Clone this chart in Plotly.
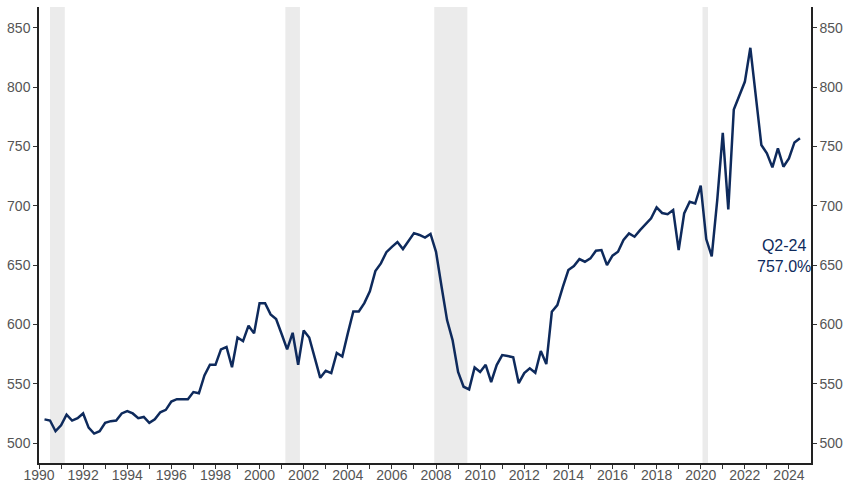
import plotly.graph_objects as go

# quarterly series, 1990 Q1 .. 2024 Q2 (quarter-end)
years = list(range(1990, 2025))
values = [
    520, 519, 510, 515,        # 1990
    524, 519, 521, 525,        # 1991
    513, 508, 510, 517,        # 1992
    518.5, 519, 525, 527,      # 1993
    525, 521, 522, 517,        # 1994
    520, 526, 528, 535,        # 1995
    537, 537, 537, 543,        # 1996
    542, 557, 566, 566,        # 1997
    579, 581, 564, 589,        # 1998
    586, 599, 592.5, 618,      # 1999
    618, 608.5, 604.6, 592,    # 2000
    579, 593, 566, 595,        # 2001
    589, 572, 555, 561,        # 2002
    559, 576, 573, 592.5,      # 2003
    611, 611, 618, 628,        # 2004
    645, 651.5, 661, 665.5,    # 2005
    669.5, 663.6, 669.8, 677,  # 2006
    675.5, 673.3, 676.4, 661.3,  # 2007
    632, 603.7, 586.8, 560,    # 2008
    547.5, 545.3, 563.8, 560,  # 2009
    566, 551.5, 565.8, 574.2,  # 2010
    573.4, 572.3, 550.5, 559,  # 2011
    563, 559.3, 577.6, 566.6,  # 2012
    610.7, 616.4, 631.8, 645.9,  # 2013
    649.2, 655.1, 652.9, 655.7,  # 2014
    662.2, 662.7, 650.1, 658,  # 2015
    661.3, 671.2, 676.8, 674,  # 2016
    679.6, 685, 689.5, 698.7,  # 2017
    694, 693, 696.5, 662.7,    # 2018
    693.6, 703.5, 702, 717,    # 2019
    672, 657.5, 705, 761.6,    # 2020
    697, 781.3, 793.4, 804.6,  # 2021
    833.3, 792, 751.3, 744.3,  # 2022
    732.5, 748.5, 733, 740,    # 2023
    753.5, 757,                # 2024
]
quarters = [(y, q) for y in years for q in range(1, 5)][:len(values)]
x = [y + q / 4 for y, q in quarters]

# recession periods (decimal years)
recessions = [(1990.5, 1991.17), (2001.17, 2001.83), (2007.92, 2009.42), (2020.08, 2020.33)]

last_label = "Q2-24<br>757.0%"

navy = "#0e2a5c"
tickfont = dict(family="Liberation Sans, Arial, sans-serif", size=14, color="#555555")

fig = go.Figure()
fig.add_trace(go.Scatter(x=x, y=values, mode="lines",
                         line=dict(color=navy, width=2.5), showlegend=False))
# same data on the right axis so it gets drawn
fig.add_trace(go.Scatter(x=x, y=values, mode="lines", yaxis="y2",
                         line=dict(color=navy, width=0), opacity=0,
                         hoverinfo="skip", showlegend=False))

for a, b in recessions:
    fig.add_shape(type="rect", xref="x", yref="paper", x0=a, x1=b, y0=0, y1=1,
                  fillcolor="#ebebeb", line_width=0, layer="below")

fig.add_annotation(text=last_label, xref="paper", yref="y", x=0.9646, y=658,
                   xanchor="center", yanchor="middle", showarrow=False, align="center",
                   font=dict(family="Liberation Sans, Arial, sans-serif", size=16, color=navy))

yr = [483.2, 867.7]
axis_common = dict(ticks="outside", ticklen=4, tickcolor="#333333",
                   showline=True, linecolor="#222222", linewidth=1.5,
                   showgrid=False, zeroline=False, tickfont=tickfont, automargin=False)
fig.update_layout(
    width=846, height=484,
    margin=dict(l=39, r=35, t=7, b=21),
    plot_bgcolor="white", paper_bgcolor="white",
    xaxis=dict(range=[1990, 2025], tickvals=list(range(1990, 2025, 2)),
               ticklabelstandoff=-6,
               minor=dict(tickvals=list(range(1991, 2025, 2)), ticks="outside",
                          ticklen=4, tickcolor="#333333"),
               **axis_common),
    yaxis=dict(range=yr, tickvals=list(range(500, 851, 50)), **axis_common),
    yaxis2=dict(range=yr, tickvals=list(range(500, 851, 50)), overlaying="y",
                side="right", **axis_common),
)

# drop the default body margin so the figure fills the window exactly
fig.write_html("out.html", config={"displayModeBar": False},
               post_script="document.body.style.margin='0';document.body.style.overflow='hidden';")
